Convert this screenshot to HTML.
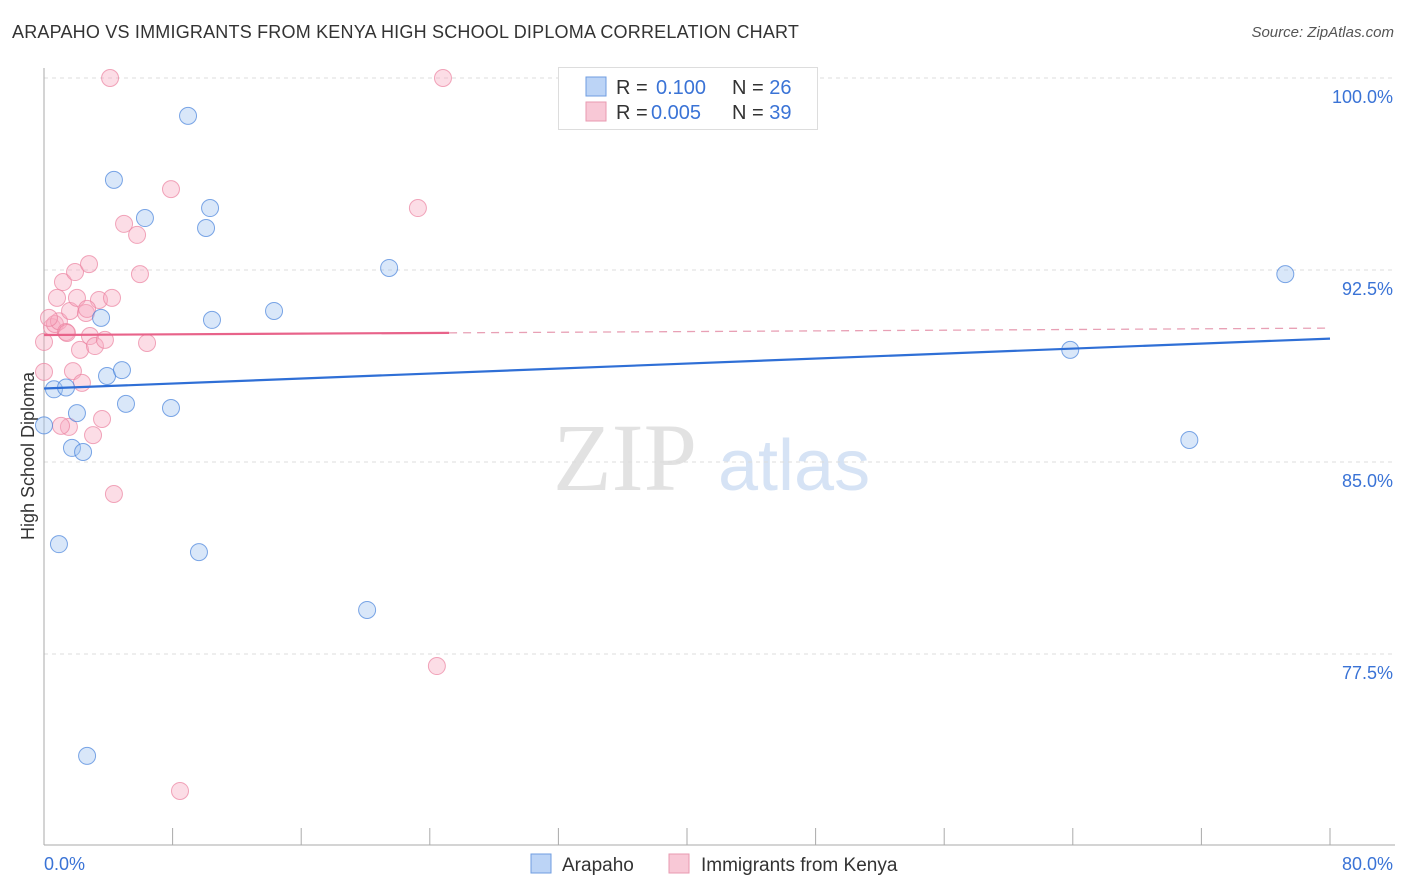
<!DOCTYPE html>
<html><head><meta charset="utf-8">
<style>
body{margin:0;background:#fff;font-family:"Liberation Sans",sans-serif;}
#wrap{position:relative;width:1406px;height:892px;overflow:hidden;}
.title{position:absolute;left:12px;top:22px;font-size:18px;color:#333;letter-spacing:0.2px}
.source{position:absolute;right:12px;top:24px;font-size:15px;color:#555;font-style:italic}
</style></head>
<body>
<div id="wrap">
<div class="title">ARAPAHO VS IMMIGRANTS FROM KENYA HIGH SCHOOL DIPLOMA CORRELATION CHART</div>
<div class="source">Source: ZipAtlas.com</div>
<svg id="svg" width="1406" height="892" style="position:absolute;left:0;top:0"></svg>
</div>
<script>
const arapahoX=[0.0,0.62,1.37,0.93,1.74,2.05,2.43,2.68,3.55,3.92,4.35,4.85,5.1,6.28,7.9,8.96,9.64,10.08,10.33,10.45,14.31,20.1,21.47,63.84,71.25,77.22];
const arapahoY=[86.43,87.84,87.91,81.79,85.55,86.91,85.39,73.52,90.63,88.36,96.02,88.59,87.27,94.53,87.11,98.52,81.48,94.14,94.92,90.55,90.9,79.22,92.58,89.38,85.86,92.34];
const kenyaX=[0.0,0.0,0.5,0.68,0.81,0.93,1.18,1.37,1.55,1.62,1.8,1.93,2.05,2.24,2.36,2.61,2.8,2.86,3.05,3.17,3.42,3.61,3.79,4.11,4.23,4.35,4.98,5.79,5.97,6.41,7.9,8.46,23.26,24.44,24.82,0.31,1.06,1.43,2.68];
const kenyaY=[89.69,88.52,90.27,90.39,91.41,90.5,92.03,90.08,86.37,90.9,88.55,92.42,91.41,89.38,88.09,90.82,92.73,89.92,86.05,89.53,91.33,86.68,89.77,100.0,91.41,83.75,94.3,93.87,92.34,89.65,95.66,72.15,94.92,77.03,100.0,90.63,86.41,90.04,90.98];
const yTicks=[100,92.5,85,77.5];
const yTickLabels=["100.0%","92.5%","85.0%","77.5%"];
const trendBlue=[87.87,89.82]; // y at x=0 and x=80
const trendPink=[89.96,90.23];
const X0=44,X1=1330,Y100=78,PXPER=192/7.5;
const xs=v=>X0+(v/80)*(X1-X0);
const ys=v=>Y100+(100-v)*PXPER;
const svg=document.getElementById('svg');
const NS='http://www.w3.org/2000/svg';
function mk(t,a){const e=document.createElementNS(NS,t);for(const k in a)e.setAttribute(k,a[k]);svg.appendChild(e);return e;}
// watermark
let w=mk('text',{x:553,y:490,'font-family':'Liberation Serif,serif','font-size':96,fill:'#e2e2e2'});w.textContent='ZIP';


let w2=mk('text',{x:718,y:490,'font-family':'Liberation Sans,sans-serif','font-size':72,fill:'#d6e3f5'});w2.textContent='atlas';


// gridlines & labels
yTicks.forEach((t,i)=>{
 const g=mk('line',{x1:X0,x2:1395,y1:ys(t),y2:ys(t),stroke:'#dcdcdc','stroke-dasharray':'4,4'});
 
 
 const l=mk('text',{x:1393,y:ys(t)+25,'text-anchor':'end','font-size':18,fill:'#3a73d6'});l.textContent=yTickLabels[i];
 
 
});
// axes
let ax=mk('line',{x1:X0,x2:X0,y1:68,y2:845,stroke:'#aaa'});


let bx=mk('line',{x1:X0,x2:1395,y1:845,y2:845,stroke:'#aaa'});


for(let i=1;i<=10;i++){const tk=mk('line',{x1:xs(i*8),x2:xs(i*8),y1:828,y2:845,stroke:'#aaa'});
 
 }
let xl0=mk('text',{x:44,y:870,'font-size':18,fill:'#3a73d6'});xl0.textContent='0.0%';


let xl1=mk('text',{x:1393,y:870,'font-size':18,'text-anchor':'end',fill:'#3a73d6'});xl1.textContent='80.0%';


let yt=mk('text',{x:34,y:456,'font-size':18,fill:'#333','text-anchor':'middle',transform:'rotate(-90 34 456)'});yt.textContent='High School Diploma';


// points
kenyaX.forEach((x,i)=>{const c=mk('circle',{cx:xs(x),cy:ys(kenyaY[i]),r:8.5,fill:'rgba(247,170,192,0.4)',stroke:'rgba(235,130,160,0.7)','stroke-width':1});
 
 });
arapahoX.forEach((x,i)=>{const c=mk('circle',{cx:xs(x),cy:ys(arapahoY[i]),r:8.5,fill:'rgba(160,195,240,0.4)',stroke:'rgba(70,130,220,0.7)','stroke-width':1});
 
 });
// trend lines
let tb=mk('line',{x1:xs(0),y1:ys(trendBlue[0]),x2:xs(80),y2:ys(trendBlue[1]),stroke:'#2f6fd6','stroke-width':2.2});


const py=x=>trendPink[0]+(trendPink[1]-trendPink[0])*x/80;
let tp=mk('line',{x1:xs(0),y1:ys(py(0)),x2:xs(25.2),y2:ys(py(25.2)),stroke:'#e8638a','stroke-width':2.2});


let tpd=mk('line',{x1:xs(25.2),y1:ys(py(25.2)),x2:xs(80),y2:ys(py(80)),stroke:'#e8a0b5','stroke-width':1.3,'stroke-dasharray':'8,6'});


// legend box
let lb=mk('rect',{x:558.5,y:67.5,width:259,height:62,fill:'#fff',stroke:'#ddd'});


[[77,'#bcd4f6','#6f9de0','0.100','26',656],[102,'#f8c8d6','#e89ab0','0.005','39',651]].forEach((r,i)=>{
 const s=mk('rect',{x:586,y:r[0],width:20,height:19,fill:r[1],stroke:r[2]});
 
 
 const t=mk('text',{x:616,y:r[0]+17,'font-size':20,fill:'#333'});
 t.innerHTML='R = <tspan x="'+r[5]+'" fill="#3a73d6">'+r[3]+'</tspan><tspan x="732" fill="#333">N = </tspan><tspan fill="#3a73d6">'+r[4]+'</tspan>';
 
 
});
// bottom legend
[[531,'#bcd4f6','#6f9de0','Arapaho',562],[669,'#f8c8d6','#e89ab0','Immigrants from Kenya',701]].forEach(r=>{
 const s=mk('rect',{x:r[0],y:854,width:20,height:19,fill:r[1],stroke:r[2]});
 
 
 const t=mk('text',{x:r[4],y:871,'font-size':19,fill:'#333'});t.textContent=r[3];
 
 
});
</script>
</body></html>
